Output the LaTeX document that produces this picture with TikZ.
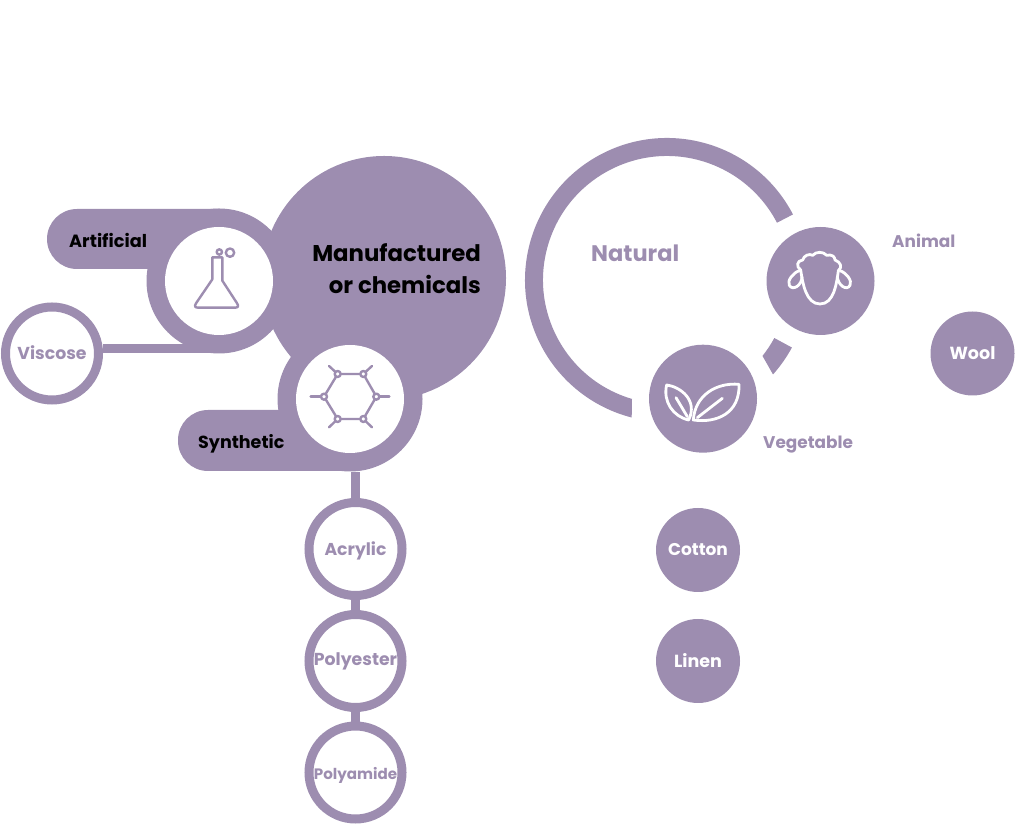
\documentclass[tikz,border=0pt]{standalone}
\usepackage{fontspec}
\setmainfont{Poppins}
\definecolor{lilac}{HTML}{9D8DB0}
\newcommand{\fsz}[1]{\bfseries\fontsize{#1}{#1}\selectfont}
\tikzset{
  x=1pt,y=1pt,
  lbl/.style={inner sep=0pt,text=lilac},
  ringnode/.style={circle,draw=lilac,line width=9pt,fill=white,minimum size=93pt,inner sep=0pt,text=lilac,text depth=0pt},
  solidnode/.style={circle,fill=lilac,minimum size=84pt,inner sep=0pt,text=white},
  iconbg/.style={circle,fill=lilac,minimum size=108pt,inner sep=0pt},
  whitedisc/.style={circle,fill=white,minimum size=108pt,inner sep=0pt},
  halo/.style={circle,fill=lilac,minimum size=145pt,inner sep=0pt},
  blob/.style={circle,fill=lilac,minimum size=244pt,inner sep=0pt},
  linkbar/.style={draw=lilac,line width=9pt},
  pill/.style={fill=lilac,rounded corners=30pt},
  icon/.style={draw=lilac,line width=2.4pt,line join=round,line cap=round},
  iconw/.style={draw=white,line width=2.8pt,line join=round,line cap=round},
  zoomed/.style 2 args={shift={(#1,#2)},xscale=1/3,yscale=-1/3},
}
\begin{document}
\begin{tikzpicture}
\useasboundingbox (0,0) rectangle (1024,824);
% Manufactured cluster
\node[blob] (big) at (384,546) {};
\node[halo] (arthalo) at (219,543) {};
\node[halo] (synhalo) at (350,425) {};
\fill[pill] (47,555) rectangle (250,615);
\fill[lilac] (150,555) rectangle (219,615);
\fill[pill] (178,353) rectangle (380,414);
\fill[lilac] (300,353) rectangle (350,414);
\node[ringnode,font=\fsz{17.3},text height=11.6pt] (viscose) at (52,470.5) {Viscose};
\node[ringnode,font=\fsz{17.2},text height=13.4pt] (acrylic) at (355.5,275) {Acrylic};
\node[ringnode,font=\fsz{17.3},text height=9.4pt] (polyester) at (355.5,163) {Polyester};
\node[ringnode,font=\fsz{15.1},text height=13.6pt] (polyamide) at (355.5,51.5) {Polyamide};
% connectors
\draw[linkbar] (viscose.6) -- (viscose.6 -| arthalo.south);
\draw[linkbar,xshift=1pt] (acrylic.north) -- (acrylic.north |- synhalo.south);
\draw[linkbar,xshift=1pt] (acrylic.south) -- (polyester.north);
\draw[linkbar,xshift=1pt] (polyester.south) -- (polyamide.north);
\node[whitedisc] (art) at (219,543) {};
\node[whitedisc] (syn) at (350,425) {};
% labels
\node[lbl,text=black,font=\fsz{17.7},anchor=mid west] (artlbl) at (69,579) {Artificial};
\node[lbl,text=black,font=\fsz{17.5},anchor=mid west] (synlbl) at (198,378) {Synthetic};
\node[lbl,text=black,font=\fsz{22.8},anchor=mid east] (manu1) at (481,565) {Manufactured};
\node[lbl,text=black,font=\fsz{22.8},anchor=mid east] (manu2) at (481,533) {or chemicals};
% flask
\begin{scope}[zoomed={180}{584}]
\draw[icon] (97,52) -- (97,118) -- (48,190) .. controls (42,200) and (46,203) .. (55,203)
  -- (165,203) .. controls (175,203) and (177,198) .. (170,188) -- (127,122) -- (127,52) -- cycle;
\draw[icon] (118,36) circle (8);
\draw[icon] (150,38) circle (12.5);
\end{scope}
% hexagon
\begin{scope}[zoomed={170}{494}]
\draw[icon] (503,132) -- (580,132) -- (619,200) -- (580,267) -- (503,267) -- (462,200) -- cycle;
\draw[icon] (503,132) -- (477,108);
\draw[icon] (580,132) -- (606,108);
\draw[icon] (619,200) -- (658,200);
\draw[icon] (580,267) -- (606,292);
\draw[icon] (503,267) -- (477,292);
\draw[icon] (462,200) -- (422,200);
\foreach \p in {(503,132),(580,132),(619,200),(580,267),(503,267),(462,200)}
  \filldraw[icon,fill=white] \p circle (9);
\end{scope}
% Natural cluster
\fill[lilac] ([shift={(667,544)}]27.5:142pt) arc[start angle=27.5,end angle=255.6,radius=142pt]
  -- ([shift={(667,544)}]253.6:124pt) arc[start angle=253.6,end angle=27.5,radius=124pt] -- cycle;
\fill[lilac] ([shift={(667,544)}]-28.4:142pt) arc[start angle=-28.4,end angle=-41.7,radius=142pt]
  -- ([shift={(667,544)}]-38.5:122pt) arc[start angle=-38.5,end angle=-28.4,radius=122pt] -- cycle;
\node[iconbg] (animal) at (820.5,543) {};
\node[iconbg] (vegetable) at (703,425.3) {};
\node[lbl,font=\fsz{22.5},anchor=mid west] (natural) at (591,565) {Natural};
\node[lbl,font=\fsz{16.9},anchor=mid west] (animallbl) at (892,579) {Animal};
\node[lbl,font=\fsz{16.9},anchor=mid west] (veglbl) at (763,378.5) {Vegetable};
\node[solidnode,font=\fsz{17.5}] (wool) at (972.5,470.5) {Wool};
\node[solidnode,font=\fsz{17}] (cotton) at (698,274) {Cotton};
\node[solidnode,font=\fsz{17.5}] (linen) at (698,163) {Linen};
% sheep
\begin{scope}[zoomed={780}{584}]
\draw[iconw] (62,90) .. controls (48,80) and (50,62) .. (68,60)
  .. controls (72,46) and (88,40) .. (98,46) .. controls (108,34) and (130,34) .. (140,46)
  .. controls (155,42) and (165,50) .. (165,60) .. controls (182,66) and (188,82) .. (175,92)
  .. controls (170,130) and (162,192) .. (120,192) .. controls (78,192) and (68,130) .. (62,90) -- cycle;
\draw[iconw] (58,92) .. controls (40,98) and (20,122) .. (28,136) .. controls (38,154) and (66,136) .. (66,110);
\draw[iconw] (180,92) .. controls (198,98) and (218,122) .. (210,136) .. controls (200,154) and (174,136) .. (172,110);
\end{scope}
% leaves
\begin{scope}[zoomed={660}{449}]
\draw[iconw] (20,30) .. controls (60,35) and (115,75) .. (86,135) .. controls (40,125) and (8,80) .. (20,30) -- cycle;
\draw[iconw] (48,68) -- (82,125);
\draw[iconw] (237,28) .. controls (170,22) and (105,60) .. (100,135) .. controls (170,145) and (240,115) .. (237,28) -- cycle;
\draw[iconw] (112,128) -- (187,70);
\end{scope}
\end{tikzpicture}
\end{document}
